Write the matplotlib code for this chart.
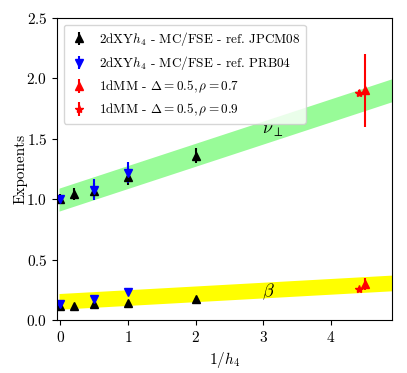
import numpy as np
import matplotlib
matplotlib.use("Agg")
import matplotlib.pyplot as plt

plt.rcParams['font.family'] = 'serif'
plt.rcParams['font.serif'] = ['cmr10']
plt.rcParams['mathtext.fontset'] = 'cm'
plt.rcParams['axes.formatter.use_mathtext'] = True

# 2dXY h4 - JPCM08
x_jp = [0, 0.2, 0.5, 1, 2]
nu_jp = [1.0, 1.04, 1.07, 1.18, 1.36]
nu_jp_err = [0.04, 0.05, 0.06, 0.06, 0.06]
beta_jp = [0.12, 0.12, 0.13, 0.14, 0.17]
beta_jp_err = [0.01, 0.01, 0.01, 0.01, 0.01]

# 2dXY h4 - PRB04
x_prb = [0, 0.5, 1]
nu_prb = [1.0, 1.08, 1.22]
nu_prb_err = [0.03, 0.09, 0.09]
beta_prb = [0.13, 0.17, 0.23]
beta_prb_err = [0.02, 0.04, 0.02]

# 1dMM
x_mm7 = [4.5]
nu_mm7 = [1.9]
nu_mm7_err = [0.3]
beta_mm7 = [0.3]
beta_mm7_err = [0.05]

x_mm9 = [4.42]
nu_mm9 = [1.88]
nu_mm9_err = [0.02]
beta_mm9 = [0.26]
beta_mm9_err = [0.01]

# bands (center line at x=0, slope, half width)
band_x = [-0.02, 5.0]
nu_band = (1.0, 0.184, 0.095)
beta_band = (0.155, 0.031, 0.065)

fig, ax = plt.subplots(figsize=(4.07, 3.73), dpi=100)
fig.subplots_adjust(left=0.14, right=0.963, top=0.952, bottom=0.142)

bx = np.array(band_x)
c, s, w = nu_band
ax.fill_between(bx, c + s*bx - w, c + s*bx + w, color='palegreen', lw=0)
c, s, w = beta_band
ax.fill_between(bx, c + s*bx - w, c + s*bx + w, color='yellow', lw=0)

ax.errorbar(x_jp, nu_jp, yerr=nu_jp_err, fmt='^', color='black', ms=6,
            label=r'2dXY$h_4$ - MC/FSE - ref. JPCM08')
ax.errorbar(x_jp, beta_jp, yerr=beta_jp_err, fmt='^', color='black', ms=6)
ax.errorbar(x_prb, nu_prb, yerr=nu_prb_err, fmt='v', color='blue', ms=6,
            label=r'2dXY$h_4$ - MC/FSE - ref. PRB04')
ax.errorbar(x_prb, beta_prb, yerr=beta_prb_err, fmt='v', color='blue', ms=6)
ax.errorbar(x_mm7, nu_mm7, yerr=nu_mm7_err, fmt='^', color='red', ms=6,
            label=r'1dMM - $\Delta=0.5,\rho=0.7$')
ax.errorbar(x_mm7, beta_mm7, yerr=beta_mm7_err, fmt='^', color='red', ms=6)
ax.errorbar(x_mm9, nu_mm9, yerr=nu_mm9_err, fmt='*', color='red', ms=6,
            label=r'1dMM - $\Delta=0.5,\rho=0.9$')
ax.errorbar(x_mm9, beta_mm9, yerr=beta_mm9_err, fmt='*', color='red', ms=6)

ax.text(2.98, 1.54, r'$\nu_\perp$', fontsize=13)
ax.text(2.98, 0.2, r'$\beta$', fontsize=13)

ax.set_xlim(-0.05, 4.9)
ax.set_ylim(0, 2.5)
ax.set_xticks([0, 1, 2, 3, 4])
ax.set_yticks([0.0, 0.5, 1.0, 1.5, 2.0, 2.5])
ax.set_xlabel(r'$1/h_4$', fontsize=11)
ax.set_ylabel('Exponents', fontsize=11, labelpad=-1)
ax.tick_params(labelsize=11)
ax.legend(loc='upper left', fontsize=9.5, handlelength=1.5)

fig.savefig('out.png', dpi=100)
